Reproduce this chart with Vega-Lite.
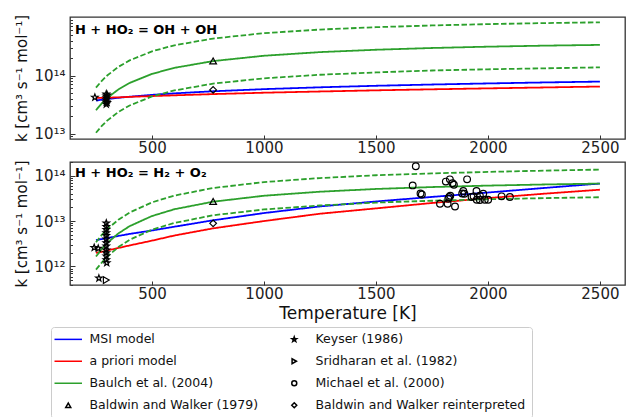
{
  "$schema": "https://vega.github.io/schema/vega-lite/v6.json",
  "background": "white",
  "padding": {"left": 14, "top": 13, "right": 5, "bottom": 5},
  "spacing": 3,
  "config": {
    "font": "DejaVu Sans",
    "view": {"stroke": "#333333", "strokeWidth": 1.3},
    "axis": {"grid": false, "domain": false, "labelFont": "DejaVu Sans", "labelFontSize": 15, "labelColor": "#222222", "tickColor": "#333333", "titleFont": "DejaVu Sans", "titleFontWeight": "normal", "titleColor": "#111111"},
    "legend": {
      "orient": "none", "legendX": -19, "legendY": 310, "title": null, "columns": 2,
      "columnPadding": 24, "rowPadding": 9, "labelFont": "DejaVu Sans", "labelFontSize": 12.5, "labelColor": "#111111",
      "labelOffset": 15, "symbolSize": 25, "symbolOffset": 5, "strokeColor": "#cccccc", "fillColor": "white", "padding": 6, "cornerRadius": 3,
      "labelLimit": 400
    }
  },
  "resolve": {"scale": {"color": "shared", "shape": "shared", "strokeDash": "shared"}},
  "datasets": {
    "curves": [
      {"panel":"top","series":"MSI model","band":"mid","T":250,"k":3.70e13},
      {"panel":"top","series":"MSI model","band":"mid","T":275,"k":3.82e13},
      {"panel":"top","series":"MSI model","band":"mid","T":300,"k":3.93e13},
      {"panel":"top","series":"MSI model","band":"mid","T":350,"k":4.13e13},
      {"panel":"top","series":"MSI model","band":"mid","T":400,"k":4.31e13},
      {"panel":"top","series":"MSI model","band":"mid","T":500,"k":4.64e13},
      {"panel":"top","series":"MSI model","band":"mid","T":600,"k":4.92e13},
      {"panel":"top","series":"MSI model","band":"mid","T":773,"k":5.35e13},
      {"panel":"top","series":"MSI model","band":"mid","T":1000,"k":5.82e13},
      {"panel":"top","series":"MSI model","band":"mid","T":1250,"k":6.26e13},
      {"panel":"top","series":"MSI model","band":"mid","T":1500,"k":6.65e13},
      {"panel":"top","series":"MSI model","band":"mid","T":1750,"k":6.99e13},
      {"panel":"top","series":"MSI model","band":"mid","T":2000,"k":7.30e13},
      {"panel":"top","series":"MSI model","band":"mid","T":2250,"k":7.59e13},
      {"panel":"top","series":"MSI model","band":"mid","T":2500,"k":7.85e13},
      {"panel":"top","series":"a priori model","band":"mid","T":250,"k":4.10e13},
      {"panel":"top","series":"a priori model","band":"mid","T":275,"k":4.12e13},
      {"panel":"top","series":"a priori model","band":"mid","T":300,"k":4.15e13},
      {"panel":"top","series":"a priori model","band":"mid","T":350,"k":4.20e13},
      {"panel":"top","series":"a priori model","band":"mid","T":400,"k":4.28e13},
      {"panel":"top","series":"a priori model","band":"mid","T":500,"k":4.42e13},
      {"panel":"top","series":"a priori model","band":"mid","T":600,"k":4.55e13},
      {"panel":"top","series":"a priori model","band":"mid","T":773,"k":4.78e13},
      {"panel":"top","series":"a priori model","band":"mid","T":1000,"k":5.05e13},
      {"panel":"top","series":"a priori model","band":"mid","T":1250,"k":5.30e13},
      {"panel":"top","series":"a priori model","band":"mid","T":1500,"k":5.55e13},
      {"panel":"top","series":"a priori model","band":"mid","T":1750,"k":5.78e13},
      {"panel":"top","series":"a priori model","band":"mid","T":2000,"k":6.00e13},
      {"panel":"top","series":"a priori model","band":"mid","T":2250,"k":6.22e13},
      {"panel":"top","series":"a priori model","band":"mid","T":2500,"k":6.45e13},
      {"panel":"top","series":"Baulch et al. (2004)","band":"mid","T":250,"k":2.52e13},
      {"panel":"top","series":"Baulch et al. (2004)","band":"mid","T":275,"k":3.28e13},
      {"panel":"top","series":"Baulch et al. (2004)","band":"mid","T":300,"k":4.08e13},
      {"panel":"top","series":"Baulch et al. (2004)","band":"mid","T":350,"k":5.75e13},
      {"panel":"top","series":"Baulch et al. (2004)","band":"mid","T":400,"k":7.44e13},
      {"panel":"top","series":"Baulch et al. (2004)","band":"mid","T":500,"k":1.066e14},
      {"panel":"top","series":"Baulch et al. (2004)","band":"mid","T":600,"k":1.355e14},
      {"panel":"top","series":"Baulch et al. (2004)","band":"mid","T":773,"k":1.773e14},
      {"panel":"top","series":"Baulch et al. (2004)","band":"mid","T":1000,"k":2.19e14},
      {"panel":"top","series":"Baulch et al. (2004)","band":"mid","T":1250,"k":2.53e14},
      {"panel":"top","series":"Baulch et al. (2004)","band":"mid","T":1500,"k":2.78e14},
      {"panel":"top","series":"Baulch et al. (2004)","band":"mid","T":1750,"k":2.98e14},
      {"panel":"top","series":"Baulch et al. (2004)","band":"mid","T":2000,"k":3.14e14},
      {"panel":"top","series":"Baulch et al. (2004)","band":"mid","T":2250,"k":3.27e14},
      {"panel":"top","series":"Baulch et al. (2004)","band":"mid","T":2500,"k":3.37e14},
      {"panel":"top","series":"Baulch et al. (2004)","band":"upper","T":250,"k":6.17e13},
      {"panel":"top","series":"Baulch et al. (2004)","band":"upper","T":275,"k":8.04e13},
      {"panel":"top","series":"Baulch et al. (2004)","band":"upper","T":300,"k":1.0e14},
      {"panel":"top","series":"Baulch et al. (2004)","band":"upper","T":350,"k":1.41e14},
      {"panel":"top","series":"Baulch et al. (2004)","band":"upper","T":400,"k":1.82e14},
      {"panel":"top","series":"Baulch et al. (2004)","band":"upper","T":500,"k":2.61e14},
      {"panel":"top","series":"Baulch et al. (2004)","band":"upper","T":600,"k":3.32e14},
      {"panel":"top","series":"Baulch et al. (2004)","band":"upper","T":773,"k":4.34e14},
      {"panel":"top","series":"Baulch et al. (2004)","band":"upper","T":1000,"k":5.37e14},
      {"panel":"top","series":"Baulch et al. (2004)","band":"upper","T":1250,"k":6.20e14},
      {"panel":"top","series":"Baulch et al. (2004)","band":"upper","T":1500,"k":6.81e14},
      {"panel":"top","series":"Baulch et al. (2004)","band":"upper","T":1750,"k":7.30e14},
      {"panel":"top","series":"Baulch et al. (2004)","band":"upper","T":2000,"k":7.69e14},
      {"panel":"top","series":"Baulch et al. (2004)","band":"upper","T":2250,"k":8.01e14},
      {"panel":"top","series":"Baulch et al. (2004)","band":"upper","T":2500,"k":8.26e14},
      {"panel":"top","series":"Baulch et al. (2004)","band":"lower","T":250,"k":1.03e13},
      {"panel":"top","series":"Baulch et al. (2004)","band":"lower","T":275,"k":1.34e13},
      {"panel":"top","series":"Baulch et al. (2004)","band":"lower","T":300,"k":1.67e13},
      {"panel":"top","series":"Baulch et al. (2004)","band":"lower","T":350,"k":2.35e13},
      {"panel":"top","series":"Baulch et al. (2004)","band":"lower","T":400,"k":3.04e13},
      {"panel":"top","series":"Baulch et al. (2004)","band":"lower","T":500,"k":4.35e13},
      {"panel":"top","series":"Baulch et al. (2004)","band":"lower","T":600,"k":5.53e13},
      {"panel":"top","series":"Baulch et al. (2004)","band":"lower","T":773,"k":7.24e13},
      {"panel":"top","series":"Baulch et al. (2004)","band":"lower","T":1000,"k":8.94e13},
      {"panel":"top","series":"Baulch et al. (2004)","band":"lower","T":1250,"k":1.03e14},
      {"panel":"top","series":"Baulch et al. (2004)","band":"lower","T":1500,"k":1.13e14},
      {"panel":"top","series":"Baulch et al. (2004)","band":"lower","T":1750,"k":1.22e14},
      {"panel":"top","series":"Baulch et al. (2004)","band":"lower","T":2000,"k":1.28e14},
      {"panel":"top","series":"Baulch et al. (2004)","band":"lower","T":2250,"k":1.33e14},
      {"panel":"top","series":"Baulch et al. (2004)","band":"lower","T":2500,"k":1.38e14},

      {"panel":"bottom","series":"MSI model","band":"mid","T":250,"k":3.8e12},
      {"panel":"bottom","series":"MSI model","band":"mid","T":275,"k":4.0e12},
      {"panel":"bottom","series":"MSI model","band":"mid","T":300,"k":4.2e12},
      {"panel":"bottom","series":"MSI model","band":"mid","T":350,"k":4.7e12},
      {"panel":"bottom","series":"MSI model","band":"mid","T":400,"k":5.2e12},
      {"panel":"bottom","series":"MSI model","band":"mid","T":500,"k":6.2e12},
      {"panel":"bottom","series":"MSI model","band":"mid","T":600,"k":7.5e12},
      {"panel":"bottom","series":"MSI model","band":"mid","T":773,"k":1.04e13},
      {"panel":"bottom","series":"MSI model","band":"mid","T":1000,"k":1.5e13},
      {"panel":"bottom","series":"MSI model","band":"mid","T":1250,"k":2.1e13},
      {"panel":"bottom","series":"MSI model","band":"mid","T":1500,"k":2.7e13},
      {"panel":"bottom","series":"MSI model","band":"mid","T":1750,"k":3.4e13},
      {"panel":"bottom","series":"MSI model","band":"mid","T":2000,"k":4.25e13},
      {"panel":"bottom","series":"MSI model","band":"mid","T":2250,"k":5.35e13},
      {"panel":"bottom","series":"MSI model","band":"mid","T":2500,"k":6.7e13},
      {"panel":"bottom","series":"a priori model","band":"mid","T":250,"k":2.0e12},
      {"panel":"bottom","series":"a priori model","band":"mid","T":275,"k":2.1e12},
      {"panel":"bottom","series":"a priori model","band":"mid","T":300,"k":2.25e12},
      {"panel":"bottom","series":"a priori model","band":"mid","T":350,"k":2.55e12},
      {"panel":"bottom","series":"a priori model","band":"mid","T":400,"k":2.9e12},
      {"panel":"bottom","series":"a priori model","band":"mid","T":500,"k":3.7e12},
      {"panel":"bottom","series":"a priori model","band":"mid","T":600,"k":4.8e12},
      {"panel":"bottom","series":"a priori model","band":"mid","T":773,"k":6.9e12},
      {"panel":"bottom","series":"a priori model","band":"mid","T":1000,"k":1.0e13},
      {"panel":"bottom","series":"a priori model","band":"mid","T":1250,"k":1.45e13},
      {"panel":"bottom","series":"a priori model","band":"mid","T":1500,"k":1.9e13},
      {"panel":"bottom","series":"a priori model","band":"mid","T":1750,"k":2.5e13},
      {"panel":"bottom","series":"a priori model","band":"mid","T":2000,"k":3.2e13},
      {"panel":"bottom","series":"a priori model","band":"mid","T":2250,"k":4.0e13},
      {"panel":"bottom","series":"a priori model","band":"mid","T":2500,"k":4.9e13},
      {"panel":"bottom","series":"Baulch et al. (2004)","band":"mid","T":250,"k":1.65e12},
      {"panel":"bottom","series":"Baulch et al. (2004)","band":"mid","T":275,"k":2.40e12},
      {"panel":"bottom","series":"Baulch et al. (2004)","band":"mid","T":300,"k":3.27e12},
      {"panel":"bottom","series":"Baulch et al. (2004)","band":"mid","T":350,"k":5.34e12},
      {"panel":"bottom","series":"Baulch et al. (2004)","band":"mid","T":400,"k":7.71e12},
      {"panel":"bottom","series":"Baulch et al. (2004)","band":"mid","T":500,"k":1.29e13},
      {"panel":"bottom","series":"Baulch et al. (2004)","band":"mid","T":600,"k":1.82e13},
      {"panel":"bottom","series":"Baulch et al. (2004)","band":"mid","T":773,"k":2.67e13},
      {"panel":"bottom","series":"Baulch et al. (2004)","band":"mid","T":1000,"k":3.61e13},
      {"panel":"bottom","series":"Baulch et al. (2004)","band":"mid","T":1250,"k":4.43e13},
      {"panel":"bottom","series":"Baulch et al. (2004)","band":"mid","T":1500,"k":5.09e13},
      {"panel":"bottom","series":"Baulch et al. (2004)","band":"mid","T":1750,"k":5.61e13},
      {"panel":"bottom","series":"Baulch et al. (2004)","band":"mid","T":2000,"k":6.04e13},
      {"panel":"bottom","series":"Baulch et al. (2004)","band":"mid","T":2250,"k":6.39e13},
      {"panel":"bottom","series":"Baulch et al. (2004)","band":"mid","T":2500,"k":6.69e13},
      {"panel":"bottom","series":"Baulch et al. (2004)","band":"upper","T":250,"k":3.4e12},
      {"panel":"bottom","series":"Baulch et al. (2004)","band":"upper","T":275,"k":4.9e12},
      {"panel":"bottom","series":"Baulch et al. (2004)","band":"upper","T":300,"k":6.6e12},
      {"panel":"bottom","series":"Baulch et al. (2004)","band":"upper","T":350,"k":1.07e13},
      {"panel":"bottom","series":"Baulch et al. (2004)","band":"upper","T":400,"k":1.54e13},
      {"panel":"bottom","series":"Baulch et al. (2004)","band":"upper","T":500,"k":2.58e13},
      {"panel":"bottom","series":"Baulch et al. (2004)","band":"upper","T":600,"k":3.64e13},
      {"panel":"bottom","series":"Baulch et al. (2004)","band":"upper","T":773,"k":5.34e13},
      {"panel":"bottom","series":"Baulch et al. (2004)","band":"upper","T":1000,"k":7.22e13},
      {"panel":"bottom","series":"Baulch et al. (2004)","band":"upper","T":1250,"k":8.86e13},
      {"panel":"bottom","series":"Baulch et al. (2004)","band":"upper","T":1500,"k":1.02e14},
      {"panel":"bottom","series":"Baulch et al. (2004)","band":"upper","T":1750,"k":1.12e14},
      {"panel":"bottom","series":"Baulch et al. (2004)","band":"upper","T":2000,"k":1.21e14},
      {"panel":"bottom","series":"Baulch et al. (2004)","band":"upper","T":2250,"k":1.29e14},
      {"panel":"bottom","series":"Baulch et al. (2004)","band":"upper","T":2500,"k":1.36e14},
      {"panel":"bottom","series":"Baulch et al. (2004)","band":"lower","T":250,"k":8.5e11},
      {"panel":"bottom","series":"Baulch et al. (2004)","band":"lower","T":275,"k":1.2e12},
      {"panel":"bottom","series":"Baulch et al. (2004)","band":"lower","T":300,"k":1.64e12},
      {"panel":"bottom","series":"Baulch et al. (2004)","band":"lower","T":350,"k":2.67e12},
      {"panel":"bottom","series":"Baulch et al. (2004)","band":"lower","T":400,"k":3.86e12},
      {"panel":"bottom","series":"Baulch et al. (2004)","band":"lower","T":500,"k":6.45e12},
      {"panel":"bottom","series":"Baulch et al. (2004)","band":"lower","T":600,"k":9.1e12},
      {"panel":"bottom","series":"Baulch et al. (2004)","band":"lower","T":773,"k":1.34e13},
      {"panel":"bottom","series":"Baulch et al. (2004)","band":"lower","T":1000,"k":1.8e13},
      {"panel":"bottom","series":"Baulch et al. (2004)","band":"lower","T":1250,"k":2.2e13},
      {"panel":"bottom","series":"Baulch et al. (2004)","band":"lower","T":1500,"k":2.55e13},
      {"panel":"bottom","series":"Baulch et al. (2004)","band":"lower","T":1750,"k":2.8e13},
      {"panel":"bottom","series":"Baulch et al. (2004)","band":"lower","T":2000,"k":3.02e13},
      {"panel":"bottom","series":"Baulch et al. (2004)","band":"lower","T":2250,"k":3.2e13},
      {"panel":"bottom","series":"Baulch et al. (2004)","band":"lower","T":2500,"k":3.35e13}
    ],
    "points": [
      {"panel":"top","series":"Keyser (1986)","T":245,"k":4.2e13},
      {"panel":"top","series":"Keyser (1986)","T":296,"k":3.2e13},
      {"panel":"top","series":"Keyser (1986)","T":296,"k":3.5e13},
      {"panel":"top","series":"Keyser (1986)","T":296,"k":3.8e13},
      {"panel":"top","series":"Keyser (1986)","T":296,"k":4.1e13},
      {"panel":"top","series":"Keyser (1986)","T":296,"k":4.4e13},
      {"panel":"top","series":"Keyser (1986)","T":296,"k":4.8e13},
      {"panel":"top","series":"Keyser (1986)","T":300,"k":3.4e13},
      {"panel":"top","series":"Keyser (1986)","T":300,"k":4.6e13},
      {"panel":"top","series":"Baldwin and Walker (1979)","T":773,"k":1.78e14},
      {"panel":"top","series":"Baldwin and Walker reinterpreted","T":773,"k":5.65e13},
      {"panel":"bottom","series":"Keyser (1986)","T":242,"k":2.6e12},
      {"panel":"bottom","series":"Keyser (1986)","T":260,"k":2.5e12},
      {"panel":"bottom","series":"Keyser (1986)","T":263,"k":5.5e11},
      {"panel":"bottom","series":"Keyser (1986)","T":296,"k":9.0e12},
      {"panel":"bottom","series":"Keyser (1986)","T":296,"k":7.5e12},
      {"panel":"bottom","series":"Keyser (1986)","T":296,"k":6.5e12},
      {"panel":"bottom","series":"Keyser (1986)","T":296,"k":5.5e12},
      {"panel":"bottom","series":"Keyser (1986)","T":296,"k":4.8e12},
      {"panel":"bottom","series":"Keyser (1986)","T":296,"k":4.0e12},
      {"panel":"bottom","series":"Keyser (1986)","T":296,"k":3.3e12},
      {"panel":"bottom","series":"Keyser (1986)","T":296,"k":2.8e12},
      {"panel":"bottom","series":"Keyser (1986)","T":296,"k":2.3e12},
      {"panel":"bottom","series":"Keyser (1986)","T":296,"k":2.0e12},
      {"panel":"bottom","series":"Keyser (1986)","T":296,"k":1.7e12},
      {"panel":"bottom","series":"Keyser (1986)","T":296,"k":1.4e12},
      {"panel":"bottom","series":"Keyser (1986)","T":298,"k":1.2e12},
      {"panel":"bottom","series":"Sridharan et al. (1982)","T":296,"k":5.0e11},
      {"panel":"bottom","series":"Baldwin and Walker (1979)","T":773,"k":2.7e13},
      {"panel":"bottom","series":"Baldwin and Walker reinterpreted","T":773,"k":8.9e12},
      {"panel":"bottom","series":"Michael et al. (2000)","T":1678,"k":1.61e14},
      {"panel":"bottom","series":"Michael et al. (2000)","T":1664,"k":6.1e13},
      {"panel":"bottom","series":"Michael et al. (2000)","T":1699,"k":4.05e13},
      {"panel":"bottom","series":"Michael et al. (2000)","T":1705,"k":3.84e13},
      {"panel":"bottom","series":"Michael et al. (2000)","T":1812,"k":7.4e13},
      {"panel":"bottom","series":"Michael et al. (2000)","T":1830,"k":8.3e13},
      {"panel":"bottom","series":"Michael et al. (2000)","T":1842,"k":6.8e13},
      {"panel":"bottom","series":"Michael et al. (2000)","T":1848,"k":6.3e13},
      {"panel":"bottom","series":"Michael et al. (2000)","T":1907,"k":8.3e13},
      {"panel":"bottom","series":"Michael et al. (2000)","T":1890,"k":4.6e13},
      {"panel":"bottom","series":"Michael et al. (2000)","T":1885,"k":4.05e13},
      {"panel":"bottom","series":"Michael et al. (2000)","T":1895,"k":4.0e13},
      {"panel":"bottom","series":"Michael et al. (2000)","T":1827,"k":3.4e13},
      {"panel":"bottom","series":"Michael et al. (2000)","T":1823,"k":3.1e13},
      {"panel":"bottom","series":"Michael et al. (2000)","T":1786,"k":2.4e13},
      {"panel":"bottom","series":"Michael et al. (2000)","T":1820,"k":2.4e13},
      {"panel":"bottom","series":"Michael et al. (2000)","T":1853,"k":2.1e13},
      {"panel":"bottom","series":"Michael et al. (2000)","T":1927,"k":3.4e13},
      {"panel":"bottom","series":"Michael et al. (2000)","T":1949,"k":4.6e13},
      {"panel":"bottom","series":"Michael et al. (2000)","T":1950,"k":2.95e13},
      {"panel":"bottom","series":"Michael et al. (2000)","T":1964,"k":3.6e13},
      {"panel":"bottom","series":"Michael et al. (2000)","T":1979,"k":4.0e13},
      {"panel":"bottom","series":"Michael et al. (2000)","T":1986,"k":2.95e13},
      {"panel":"bottom","series":"Michael et al. (2000)","T":2001,"k":2.95e13},
      {"panel":"bottom","series":"Michael et al. (2000)","T":1964,"k":2.9e13},
      {"panel":"bottom","series":"Michael et al. (2000)","T":2061,"k":3.5e13},
      {"panel":"bottom","series":"Michael et al. (2000)","T":2098,"k":3.4e13},
      {"panel":"bottom","series":"Michael et al. (2000)","T":1936,"k":3.5e13},
      {"panel":"bottom","series":"Michael et al. (2000)","T":1832,"k":3.6e13}
    ],
    "labels": [
      {"panel":"top","label":"H + HO₂ = OH + OH"},
      {"panel":"bottom","label":"H + HO₂ = H₂ + O₂"}
    ]
  },
  "vconcat": [
    {
      "width": 555,
      "height": 122,
      "layer": [
        {
          "data": {"name": "curves"},
          "transform": [{"filter": "datum.panel === 'top'"}],
          "mark": {"type": "line", "strokeWidth": 1.8, "clip": true},
          "encoding": {
            "x": {"field": "T", "type": "quantitative", "scale": {"domain": [134, 2612], "nice": false, "zero": false},
                  "axis": {"title": null, "values": [500, 1000, 1500, 2000, 2500], "format": "d", "tickSize": -4, "labelPadding": 5, "labelFlush": false}},
            "y": {"field": "k", "type": "quantitative", "scale": {"type": "log", "domain": [8.04e12, 1.02e15], "nice": false},
                  "axis": {"title": "k [cm³ s⁻¹ mol⁻¹]", "titleFontSize": 15, "titlePadding": 4,
                           "values": [9e12, 1e13, 2e13, 3e13, 4e13, 5e13, 6e13, 7e13, 8e13, 9e13, 1e14, 2e14, 3e14, 4e14, 5e14, 6e14, 7e14, 8e14, 9e14],
                           "labelExpr": "datum.value == 1e13 ? '10¹³' : datum.value == 1e14 ? '10¹⁴' : ''",
                           "tickSize": {"condition": {"test": "datum.value == 1e13 || datum.value == 1e14", "value": -5}, "value": -2.5},
                           "labelPadding": 10}},
            "color": {"field": "series", "type": "nominal", "scale": {"domain": ["MSI model", "a priori model", "Baulch et al. (2004)", "Baldwin and Walker (1979)", "Keyser (1986)", "Sridharan et al. (1982)", "Michael et al. (2000)", "Baldwin and Walker reinterpreted"], "range": ["#0000ff", "#ff0000", "#2ca02c", "#000000", "#000000", "#000000", "#000000", "#000000"]}},
            "detail": {"field": "band"},
            "strokeDash": {"field": "band", "type": "nominal", "scale": {"domain": ["mid", "upper", "lower"], "range": [[1, 0], [5.5, 2.4], [5.5, 2.4]]}, "legend": null}
          }
        },
        {
          "data": {"name": "points"},
          "transform": [{"filter": "datum.panel === 'top'"}],
          "mark": {"type": "point", "filled": false, "strokeWidth": 1.2, "size": 45, "opacity": 1},
          "encoding": {
            "x": {"field": "T", "type": "quantitative"},
            "y": {"field": "k", "type": "quantitative"},
            "color": {"field": "series", "type": "nominal"},
            "shape": {"field": "series", "type": "nominal", "scale": {"domain": ["MSI model", "a priori model", "Baulch et al. (2004)", "Baldwin and Walker (1979)", "Keyser (1986)", "Sridharan et al. (1982)", "Michael et al. (2000)", "Baldwin and Walker reinterpreted"], "range": ["M-5.5,0H5.5", "M-5.5,0H5.5", "M-5.5,0H5.5", "triangle-up", "M0,-1L0.235,-0.324L0.951,-0.309L0.38,0.124L0.588,0.809L0,0.4L-0.588,0.809L-0.38,0.124L-0.951,-0.309L-0.235,-0.324Z", "triangle-right", "circle", "diamond"]}}
          }
        },
        {
          "data": {"name": "labels"},
          "transform": [{"filter": "datum.panel === 'top'"}],
          "mark": {"type": "text", "align": "left", "baseline": "middle", "font": "DejaVu Sans", "fontWeight": "bold", "fontSize": 13, "color": "#000000"},
          "encoding": {
            "x": {"datum": 156},
            "y": {"datum": 6.2e14},
            "text": {"field": "label"}
          }
        }
      ]
    },
    {
      "width": 555,
      "height": 123,
      "layer": [
        {
          "data": {"name": "curves"},
          "transform": [{"filter": "datum.panel === 'bottom'"}],
          "mark": {"type": "line", "strokeWidth": 1.8, "clip": true},
          "encoding": {
            "x": {"field": "T", "type": "quantitative", "scale": {"domain": [134, 2612], "nice": false, "zero": false},
                  "axis": {"title": "Temperature [K]", "titleFontSize": 17, "titlePadding": 4, "values": [500, 1000, 1500, 2000, 2500], "format": "d", "tickSize": -4, "labelPadding": 5, "labelFlush": false}},
            "y": {"field": "k", "type": "quantitative", "scale": {"type": "log", "domain": [3.9e11, 2.0e14], "nice": false},
                  "axis": {"title": "k [cm³ s⁻¹ mol⁻¹]", "titleFontSize": 15, "titlePadding": 4,
                           "values": [4e11, 5e11, 6e11, 7e11, 8e11, 9e11, 1e12, 2e12, 3e12, 4e12, 5e12, 6e12, 7e12, 8e12, 9e12, 1e13, 2e13, 3e13, 4e13, 5e13, 6e13, 7e13, 8e13, 9e13, 1e14, 2e14],
                           "labelExpr": "datum.value == 1e12 ? '10¹²' : datum.value == 1e13 ? '10¹³' : datum.value == 1e14 ? '10¹⁴' : ''",
                           "tickSize": {"condition": {"test": "datum.value == 1e12 || datum.value == 1e13 || datum.value == 1e14", "value": -5}, "value": -2.5},
                           "labelPadding": 10}},
            "color": {"field": "series", "type": "nominal"},
            "detail": {"field": "band"},
            "strokeDash": {"field": "band", "type": "nominal", "legend": null}
          }
        },
        {
          "data": {"name": "points"},
          "transform": [{"filter": "datum.panel === 'bottom'"}],
          "mark": {"type": "point", "filled": false, "strokeWidth": 1.2, "size": 45, "opacity": 1},
          "encoding": {
            "x": {"field": "T", "type": "quantitative"},
            "y": {"field": "k", "type": "quantitative"},
            "color": {"field": "series", "type": "nominal"},
            "shape": {"field": "series", "type": "nominal"}
          }
        },
        {
          "data": {"name": "labels"},
          "transform": [{"filter": "datum.panel === 'bottom'"}],
          "mark": {"type": "text", "align": "left", "baseline": "middle", "font": "DejaVu Sans", "fontWeight": "bold", "fontSize": 13, "color": "#000000"},
          "encoding": {
            "x": {"datum": 156},
            "y": {"datum": 1.16e14},
            "text": {"field": "label"}
          }
        }
      ]
    }
  ]
}
